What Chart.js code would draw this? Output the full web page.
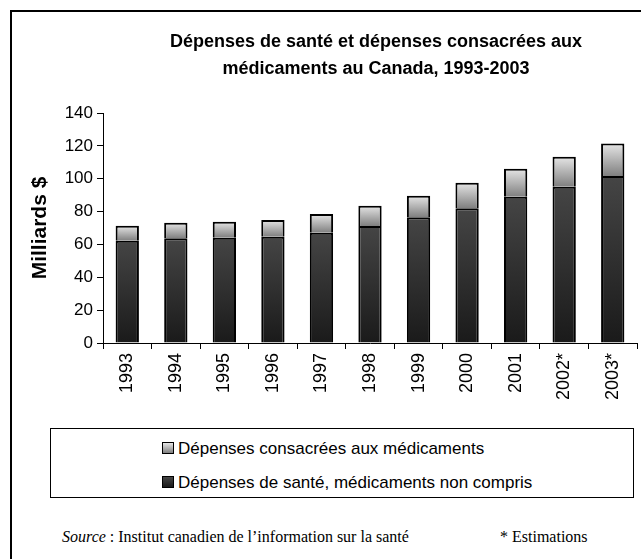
<!DOCTYPE html>
<html lang="fr">
<head>
<meta charset="utf-8">
<title>Dépenses de santé au Canada</title>
<script src="https://cdn.jsdelivr.net/npm/chart.js@4.4.0/dist/chart.umd.min.js"></script>
<style>
  html, body { margin: 0; padding: 0; background: #fff; }
  body { width: 641px; height: 559px; position: relative; overflow: hidden; font-family: "Liberation Sans", Arial, sans-serif; color: #000; }
  .frame { position: absolute; left: 10px; top: 10px; width: 700px; height: 600px; border-left: 2px solid #000; border-top: 2px solid #000; }
  .chart-wrap { position: absolute; left: 0; top: 0; width: 641px; height: 420px; }
  .title { position: absolute; left: 126px; width: 500px; top: 28px; text-align: center; font-weight: bold; font-size: 18px; line-height: 27px; }
  .legend-box { position: absolute; left: 50px; top: 428px; width: 584px; height: 70px; border: 1px solid #000; box-sizing: border-box; background: #fff; }
  .legend-item { position: absolute; left: 111px; font-size: 17px; line-height: 20px; white-space: nowrap; }
  .legend-item .swatch { display: inline-block; width: 10px; height: 10px; border: 1px solid #000; margin-right: 4px; vertical-align: 0px; }
  .source { position: absolute; left: 62px; top: 527px; font-family: "Liberation Serif", "Times New Roman", serif; font-size: 16px; line-height: 20px; white-space: nowrap; }
  .note { position: absolute; left: 500px; top: 527px; font-family: "Liberation Serif", "Times New Roman", serif; font-size: 16px; line-height: 20px; white-space: nowrap; }
</style>
</head>
<body>
<div class="frame"></div>
<div class="chart-wrap"><canvas id="chart" width="641" height="420"></canvas></div>
<div class="title">Dépenses de santé et dépenses consacrées aux<br>médicaments au Canada, 1993-2003</div>
<div class="legend-box">
  <div class="legend-item" style="top: 10px;"><span class="swatch" style="background: linear-gradient(#e6e6e6, #7f7f7f);"></span>Dépenses consacrées aux médicaments</div>
  <div class="legend-item" style="top: 44px;"><span class="swatch" style="background: linear-gradient(#454545, #1a1a1a);"></span>Dépenses de santé, médicaments non compris</div>
</div>
<div class="source"><i>Source</i> : Institut canadien de l’information sur la santé</div>
<div class="note">* Estimations</div>

<script>
const years = ['1993', '1994', '1995', '1996', '1997', '1998', '1999', '2000', '2001', '2002*', '2003*'];
// milliards de dollars
const healthExDrugs = [62.3, 63.7, 64.1, 64.7, 67.1, 71.2, 76.5, 82.0, 89.0, 95.1, 101.6];
const drugSpending = [9.0, 9.5, 9.7, 10.2, 11.4, 12.4, 13.2, 15.6, 17.1, 18.3, 19.9];
const yMax = 140;
const yStep = 20;

const fontFamily = '"Liberation Sans", Arial, sans-serif';

// vertical gradient for each bar segment, light one for drugs, dark one for the rest
function segmentFill(ctx, light) {
    const chart = ctx.chart;
    const y = chart.scales && chart.scales.y;
    const i = ctx.dataIndex;
    if (i === undefined || !y || !chart.chartArea) {
        return light ? '#bdbdbd' : '#303030';
    }
    const low = light ? healthExDrugs[i] : 0;
    const high = light ? healthExDrugs[i] + drugSpending[i] : healthExDrugs[i];
    const g = chart.ctx.createLinearGradient(0, y.getPixelForValue(high), 0, y.getPixelForValue(low));
    if (light) {
        g.addColorStop(0, '#e6e6e6');
        g.addColorStop(1, '#7f7f7f');
    } else {
        g.addColorStop(0, '#454545');
        g.addColorStop(1, '#1a1a1a');
    }
    return g;
}

new Chart(document.getElementById('chart'), {
    type: 'bar',
    data: {
        labels: years,
        datasets: [
            {
                label: 'Dépenses de santé, médicaments non compris',
                data: healthExDrugs,
                backgroundColor: ctx => segmentFill(ctx, false),
                borderColor: '#000',
                borderWidth: 2,
            },
            {
                label: 'Dépenses consacrées aux médicaments',
                data: drugSpending,
                backgroundColor: ctx => segmentFill(ctx, true),
                borderColor: '#000',
                borderWidth: 2,
            }
        ]
    },
    options: {
        responsive: false,
        devicePixelRatio: 1,
        animation: false,
        layout: { padding: { top: 113, left: 28, right: 4, bottom: 0 } },
        datasets: { bar: { categoryPercentage: 1, barPercentage: 0.48 } },
        plugins: {
            legend: { display: false },
            tooltip: { enabled: false },
        },
        scales: {
            x: {
                stacked: true,
                grid: { offset: true, drawOnChartArea: false, drawTicks: true, tickLength: 6, color: '#000', lineWidth: 1 },
                border: { color: '#000', width: 1 },
                ticks: { color: '#000', font: { size: 18, family: fontFamily }, minRotation: 90, maxRotation: 90, padding: 4 },
                afterFit: scale => { scale.height = 77; },
            },
            y: {
                stacked: true,
                min: 0,
                max: yMax,
                grid: { drawOnChartArea: false, drawTicks: true, tickLength: 6, color: '#000', lineWidth: 1 },
                border: { color: '#000', width: 1 },
                ticks: { stepSize: yStep, color: '#000', font: { size: 17, family: fontFamily }, padding: 4 },
                title: { display: true, text: 'Milliards $', color: '#000', font: { size: 21, weight: 'bold', family: fontFamily }, padding: 0 },
                afterFit: scale => { scale.width = 75; },
            }
        }
    }
});
</script>
</body>
</html>
